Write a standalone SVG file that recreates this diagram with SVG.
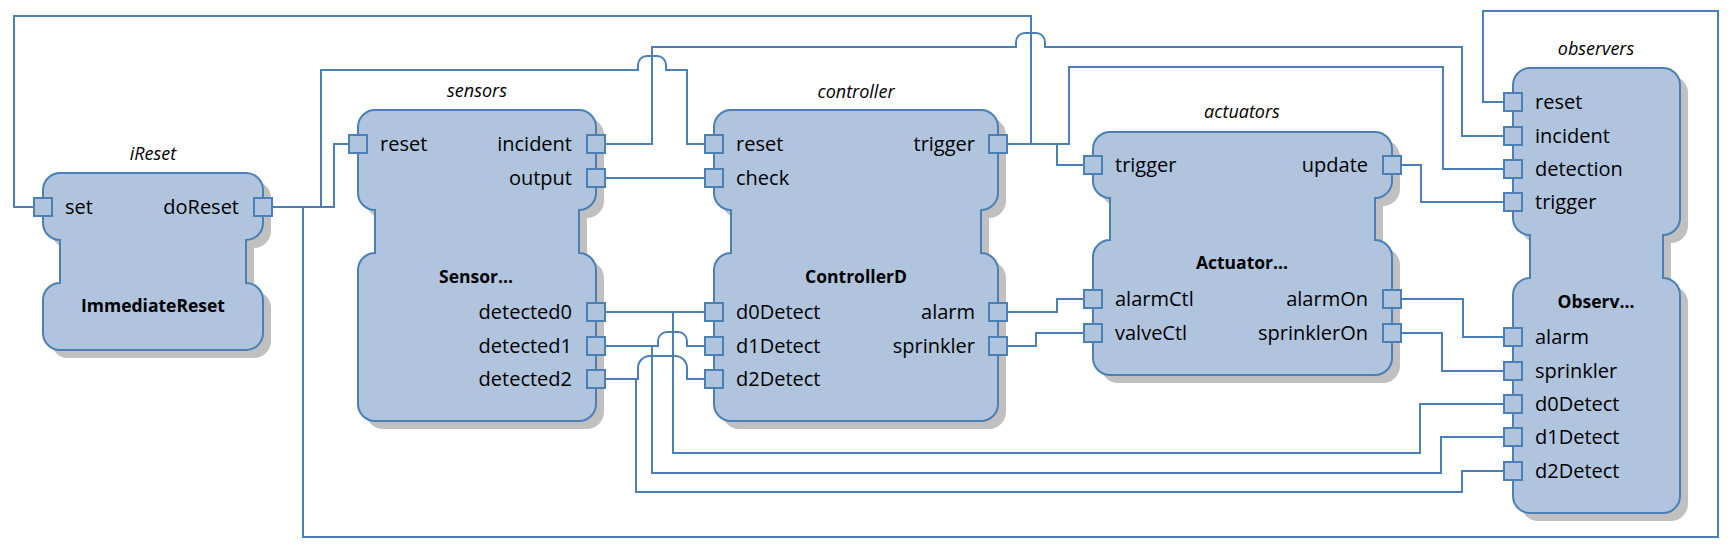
<svg xmlns="http://www.w3.org/2000/svg" width="1733" height="550" viewBox="0 0 1733 550">
<style>
.bg{fill:#ffffff}
.body{fill:#b0c4de;stroke:#4a80b6;stroke-width:2}
.shadow{fill:#c0c0c0;stroke:none}
.port{fill:#b0c4de;stroke:#4a80b6;stroke-width:2}
.wire{fill:none;stroke:#4a80b6;stroke-width:2}
.inst{font-family:"Open Sans","Segoe UI","Noto Sans",sans-serif;font-style:italic;font-size:18px;fill:#000;text-anchor:middle}
.title{font-family:"Open Sans","Segoe UI","Noto Sans",sans-serif;font-weight:bold;font-size:17.5px;fill:#000;text-anchor:middle}
.pl{font-family:"Open Sans","Segoe UI","Noto Sans",sans-serif;font-size:20px;fill:#000}
.pr{font-family:"Open Sans","Segoe UI","Noto Sans",sans-serif;font-size:20px;fill:#000;text-anchor:end}
</style>
<rect class="bg" x="0" y="0" width="1733" height="550"/>
<g id="connectors">
<path class="wire" d="M 1031 144 V 16 H 14 V 207 H 34"/>
<path class="wire" d="M 1007 144 H 1069 V 67 H 1443 V 169 H 1504"/>
<path class="wire" d="M 1057 144 V 165 H 1084"/>
<path class="wire" d="M 272 207 H 334 V 144 H 349"/>
<path class="wire" d="M 321 207 V 70 H 638 V 65 A 9 9 0 0 1 647 56 H 657 A 9 9 0 0 1 666 65 V 70 H 687 V 144 H 705"/>
<path class="wire" d="M 303 207 V 537 H 1718 V 11 H 1483 V 102 H 1504"/>
<path class="wire" d="M 605 144 H 652 V 47 H 1016 V 42 A 9 9 0 0 1 1025 33 H 1036 A 9 9 0 0 1 1045 42 V 47 H 1462 V 136 H 1504"/>
<path class="wire" d="M 605 178 H 705"/>
<path class="wire" d="M 605 312 H 705"/>
<path class="wire" d="M 673 312 V 453 H 1420 V 404 H 1504"/>
<path class="wire" d="M 605 346 H 658 V 341 A 9 9 0 0 1 667 332 H 678 A 9 9 0 0 1 687 341 V 346 H 705"/>
<path class="wire" d="M 652 346 V 473 H 1441 V 437 H 1504"/>
<path class="wire" d="M 605 379 H 638 V 368 A 12 12 0 0 1 650 356 H 675 A 12 12 0 0 1 687 368 V 379 H 705"/>
<path class="wire" d="M 636 379 V 492 H 1462 V 471 H 1504"/>
<path class="wire" d="M 1007 312 H 1057 V 299 H 1084"/>
<path class="wire" d="M 1007 346 H 1036 V 333 H 1084"/>
<path class="wire" d="M 1401 165 H 1421 V 202 H 1504"/>
<path class="wire" d="M 1401 299 H 1463 V 337 H 1504"/>
<path class="wire" d="M 1401 333 H 1442 V 371 H 1504"/>
</g>
<g id="iReset">
<path class="shadow" transform="translate(8,8)" d="M 60 173 H 246 A 17 17 0 0 1 263 190 V 223 A 17 17 0 0 1 246 240 V 283 A 17 17 0 0 1 263 300 V 333 A 17 17 0 0 1 246 350 H 60 A 17 17 0 0 1 43 333 V 300 A 17 17 0 0 1 60 283 V 240 A 17 17 0 0 1 43 223 V 190 A 17 17 0 0 1 60 173 Z"/>
<path class="body" d="M 60 173 H 246 A 17 17 0 0 1 263 190 V 223 A 17 17 0 0 1 246 240 V 283 A 17 17 0 0 1 263 300 V 333 A 17 17 0 0 1 246 350 H 60 A 17 17 0 0 1 43 333 V 300 A 17 17 0 0 1 60 283 V 240 A 17 17 0 0 1 43 223 V 190 A 17 17 0 0 1 60 173 Z"/>
<text class="inst" x="153" y="160">iReset</text>
<text class="title" x="153" y="312">ImmediateReset</text>
<rect class="port" x="34" y="198" width="18" height="18"/>
<rect class="port" x="254" y="198" width="18" height="18"/>
<text class="pl" x="65" y="213.5">set</text>
<text class="pr" x="239" y="213.5">doReset</text>
</g>
<g id="sensors">
<path class="shadow" transform="translate(8,8)" d="M 375 110 H 579 A 17 17 0 0 1 596 127 V 193 A 17 17 0 0 1 579 210 V 253 A 17 17 0 0 1 596 270 V 404 A 17 17 0 0 1 579 421 H 375 A 17 17 0 0 1 358 404 V 270 A 17 17 0 0 1 375 253 V 210 A 17 17 0 0 1 358 193 V 127 A 17 17 0 0 1 375 110 Z"/>
<path class="body" d="M 375 110 H 579 A 17 17 0 0 1 596 127 V 193 A 17 17 0 0 1 579 210 V 253 A 17 17 0 0 1 596 270 V 404 A 17 17 0 0 1 579 421 H 375 A 17 17 0 0 1 358 404 V 270 A 17 17 0 0 1 375 253 V 210 A 17 17 0 0 1 358 193 V 127 A 17 17 0 0 1 375 110 Z"/>
<text class="inst" x="477" y="97">sensors</text>
<text class="title" x="476" y="283">Sensor...</text>
<rect class="port" x="349" y="135" width="18" height="18"/>
<rect class="port" x="587" y="135" width="18" height="18"/>
<rect class="port" x="587" y="169" width="18" height="18"/>
<rect class="port" x="587" y="303" width="18" height="18"/>
<rect class="port" x="587" y="337" width="18" height="18"/>
<rect class="port" x="587" y="370" width="18" height="18"/>
<text class="pl" x="380" y="150.5">reset</text>
<text class="pr" x="572" y="150.5">incident</text>
<text class="pr" x="572" y="184.5">output</text>
<text class="pr" x="572" y="318.5">detected0</text>
<text class="pr" x="572" y="352.5">detected1</text>
<text class="pr" x="572" y="385.5">detected2</text>
</g>
<g id="controller">
<path class="shadow" transform="translate(8,8)" d="M 731 110 H 981 A 17 17 0 0 1 998 127 V 193 A 17 17 0 0 1 981 210 V 253 A 17 17 0 0 1 998 270 V 404 A 17 17 0 0 1 981 421 H 731 A 17 17 0 0 1 714 404 V 270 A 17 17 0 0 1 731 253 V 210 A 17 17 0 0 1 714 193 V 127 A 17 17 0 0 1 731 110 Z"/>
<path class="body" d="M 731 110 H 981 A 17 17 0 0 1 998 127 V 193 A 17 17 0 0 1 981 210 V 253 A 17 17 0 0 1 998 270 V 404 A 17 17 0 0 1 981 421 H 731 A 17 17 0 0 1 714 404 V 270 A 17 17 0 0 1 731 253 V 210 A 17 17 0 0 1 714 193 V 127 A 17 17 0 0 1 731 110 Z"/>
<text class="inst" x="856" y="98">controller</text>
<text class="title" x="856" y="283">ControllerD</text>
<rect class="port" x="705" y="135" width="18" height="18"/>
<rect class="port" x="705" y="169" width="18" height="18"/>
<rect class="port" x="705" y="303" width="18" height="18"/>
<rect class="port" x="705" y="337" width="18" height="18"/>
<rect class="port" x="705" y="370" width="18" height="18"/>
<rect class="port" x="989" y="135" width="18" height="18"/>
<rect class="port" x="989" y="303" width="18" height="18"/>
<rect class="port" x="989" y="337" width="18" height="18"/>
<text class="pl" x="736" y="150.5">reset</text>
<text class="pl" x="736" y="184.5">check</text>
<text class="pl" x="736" y="318.5">d0Detect</text>
<text class="pl" x="736" y="352.5">d1Detect</text>
<text class="pl" x="736" y="385.5">d2Detect</text>
<text class="pr" x="975" y="150.5">trigger</text>
<text class="pr" x="975" y="318.5">alarm</text>
<text class="pr" x="975" y="352.5">sprinkler</text>
</g>
<g id="actuators">
<path class="shadow" transform="translate(8,8)" d="M 1110 132 H 1375 A 17 17 0 0 1 1392 149 V 181 A 17 17 0 0 1 1375 198 V 240 A 17 17 0 0 1 1392 257 V 358 A 17 17 0 0 1 1375 375 H 1110 A 17 17 0 0 1 1093 358 V 257 A 17 17 0 0 1 1110 240 V 198 A 17 17 0 0 1 1093 181 V 149 A 17 17 0 0 1 1110 132 Z"/>
<path class="body" d="M 1110 132 H 1375 A 17 17 0 0 1 1392 149 V 181 A 17 17 0 0 1 1375 198 V 240 A 17 17 0 0 1 1392 257 V 358 A 17 17 0 0 1 1375 375 H 1110 A 17 17 0 0 1 1093 358 V 257 A 17 17 0 0 1 1110 240 V 198 A 17 17 0 0 1 1093 181 V 149 A 17 17 0 0 1 1110 132 Z"/>
<text class="inst" x="1242" y="118">actuators</text>
<text class="title" x="1242" y="269">Actuator...</text>
<rect class="port" x="1084" y="156" width="18" height="18"/>
<rect class="port" x="1084" y="290" width="18" height="18"/>
<rect class="port" x="1084" y="324" width="18" height="18"/>
<rect class="port" x="1383" y="156" width="18" height="18"/>
<rect class="port" x="1383" y="290" width="18" height="18"/>
<rect class="port" x="1383" y="324" width="18" height="18"/>
<text class="pl" x="1115" y="171.5">trigger</text>
<text class="pl" x="1115" y="305.5">alarmCtl</text>
<text class="pl" x="1115" y="339.5">valveCtl</text>
<text class="pr" x="1368" y="171.5">update</text>
<text class="pr" x="1368" y="305.5">alarmOn</text>
<text class="pr" x="1368" y="339.5">sprinklerOn</text>
</g>
<g id="observers">
<path class="shadow" transform="translate(8,8)" d="M 1530 68 H 1663 A 17 17 0 0 1 1680 85 V 218 A 17 17 0 0 1 1663 235 V 278 A 17 17 0 0 1 1680 295 V 496 A 17 17 0 0 1 1663 513 H 1530 A 17 17 0 0 1 1513 496 V 295 A 17 17 0 0 1 1530 278 V 235 A 17 17 0 0 1 1513 218 V 85 A 17 17 0 0 1 1530 68 Z"/>
<path class="body" d="M 1530 68 H 1663 A 17 17 0 0 1 1680 85 V 218 A 17 17 0 0 1 1663 235 V 278 A 17 17 0 0 1 1680 295 V 496 A 17 17 0 0 1 1663 513 H 1530 A 17 17 0 0 1 1513 496 V 295 A 17 17 0 0 1 1530 278 V 235 A 17 17 0 0 1 1513 218 V 85 A 17 17 0 0 1 1530 68 Z"/>
<text class="inst" x="1596" y="55">observers</text>
<text class="title" x="1596" y="308">Observ...</text>
<rect class="port" x="1504" y="93" width="18" height="18"/>
<rect class="port" x="1504" y="127" width="18" height="18"/>
<rect class="port" x="1504" y="160" width="18" height="18"/>
<rect class="port" x="1504" y="193" width="18" height="18"/>
<rect class="port" x="1504" y="328" width="18" height="18"/>
<rect class="port" x="1504" y="362" width="18" height="18"/>
<rect class="port" x="1504" y="395" width="18" height="18"/>
<rect class="port" x="1504" y="428" width="18" height="18"/>
<rect class="port" x="1504" y="462" width="18" height="18"/>
<text class="pl" x="1535" y="108.5">reset</text>
<text class="pl" x="1535" y="142.5">incident</text>
<text class="pl" x="1535" y="175.5">detection</text>
<text class="pl" x="1535" y="208.5">trigger</text>
<text class="pl" x="1535" y="343.5">alarm</text>
<text class="pl" x="1535" y="377.5">sprinkler</text>
<text class="pl" x="1535" y="410.5">d0Detect</text>
<text class="pl" x="1535" y="443.5">d1Detect</text>
<text class="pl" x="1535" y="477.5">d2Detect</text>
</g>
</svg>
